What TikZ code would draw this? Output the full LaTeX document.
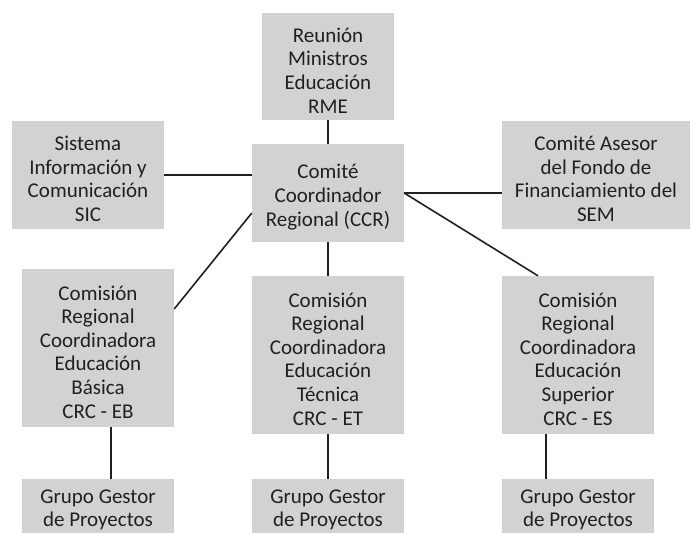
\documentclass[tikz,border=0pt]{standalone}
\usepackage{fontspec}
\setmainfont{Carlito}
\definecolor{boxgray}{RGB}{209,210,212}
\definecolor{txt}{RGB}{35,31,32}
\begin{document}
\begin{tikzpicture}[x=1pt,y=-1pt,
  box/.style={fill=boxgray, draw=none, inner sep=0pt},
  lbl/.style={inner sep=0pt, align=center, text=txt, yshift=-4pt,
    font=\fontsize{21}{23.6}\selectfont},
  conn/.style={line width=1.6pt, draw=txt}]
\useasboundingbox (0,0) rectangle (693,533);
\fill[white] (0,0) rectangle (693,533);
\node[box, minimum width=132pt, minimum height=107pt] (rme) at (328,66.5) {};
\node[box, minimum width=152pt, minimum height=108pt] (sic) at (88,175) {};
\node[box, minimum width=152pt, minimum height=98pt] (ccr) at (328,193) {};
\node[box, minimum width=188pt, minimum height=108pt] (sem) at (596,175) {};
\node[box, minimum width=152pt, minimum height=158pt] (eb) at (98,348) {};
\node[box, minimum width=152pt, minimum height=158pt] (et) at (328,355) {};
\node[box, minimum width=152pt, minimum height=158pt] (es) at (578,355) {};
\node[box, minimum width=152pt, minimum height=54pt] (g1) at (98,506) {};
\node[box, minimum width=152pt, minimum height=54pt] (g2) at (328,506) {};
\node[box, minimum width=152pt, minimum height=54pt] (g3) at (578,506) {};
\node[lbl] (rmet) at (rme) {Reunión\\Ministros\\Educación\\RME};
\node[lbl] (sict) at (sic) {Sistema\\Información y\\Comunicación\\SIC};
\node[lbl] (ccrt) at (ccr) {Comité\\Coordinador\\Regional (CCR)};
\node[lbl] (semt) at (sem) {Comité Asesor\\del Fondo de\\Financiamiento del\\SEM};
\node[lbl] (ebt) at (eb) {Comisión\\Regional\\Coordinadora\\Educación\\Básica\\CRC - EB};
\node[lbl] (ett) at (et) {Comisión\\Regional\\Coordinadora\\Educación\\Técnica\\CRC - ET};
\node[lbl] (est) at (es) {Comisión\\Regional\\Coordinadora\\Educación\\Superior\\CRC - ES};
\node[lbl] (g1t) at (g1) {Grupo Gestor\\de Proyectos};
\node[lbl] (g2t) at (g2) {Grupo Gestor\\de Proyectos};
\node[lbl] (g3t) at (g3) {Grupo Gestor\\de Proyectos};
\draw[conn] (rme.south) -- (ccr.north);
\draw[conn] (sic.east) -- (ccr.west |- sic.east);
\draw[conn] (ccr.east) -- (sem.west |- ccr.east);
\draw[conn] ([yshift=-20pt]ccr.west) -- ([yshift=39pt]eb.east);
\draw[conn] (ccr.south) -- (et.north);
\draw[conn] (ccr.east) -- ([xshift=-40pt]es.north);
\draw[conn] ([xshift=13pt]eb.south) -- ([xshift=13pt]g1.north);
\draw[conn] (et.south) -- (g2.north);
\draw[conn] ([xshift=-32pt]es.south) -- ([xshift=-32pt]g3.north);
\end{tikzpicture}
\end{document}
